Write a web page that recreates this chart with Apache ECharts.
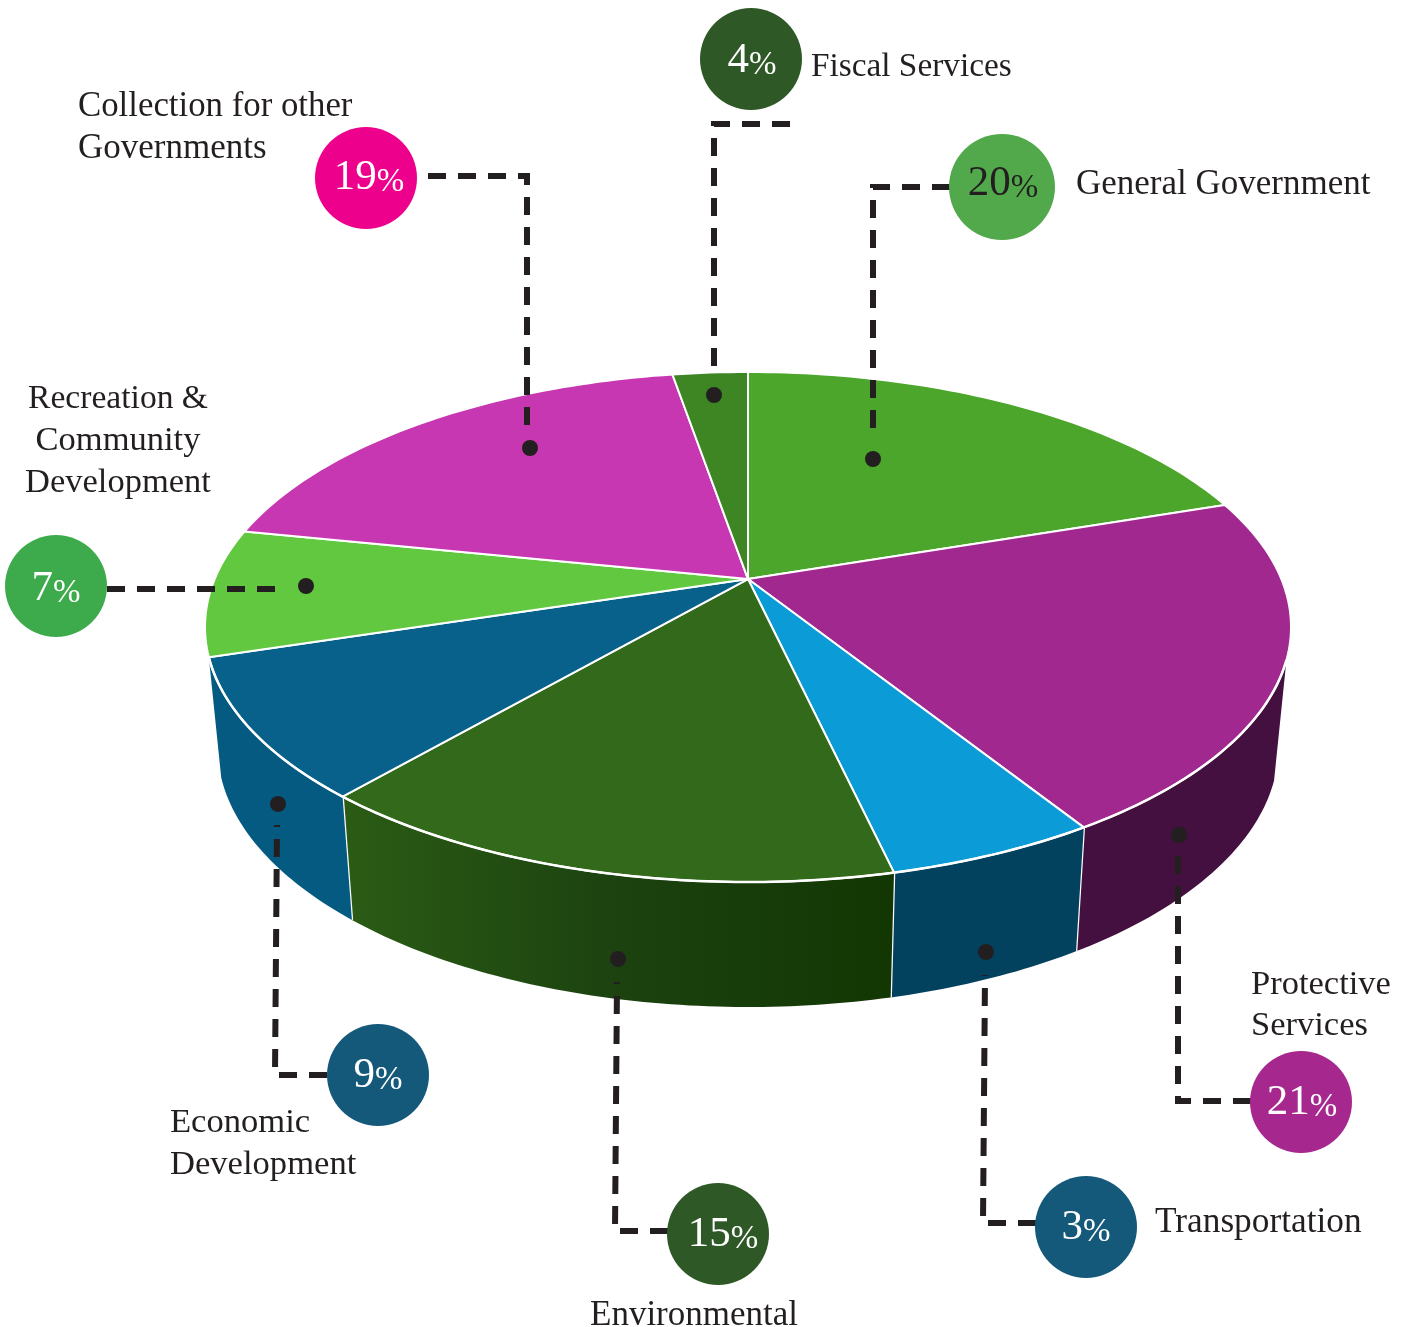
<!DOCTYPE html>
<html><head><meta charset="utf-8">
<style>html,body{margin:0;padding:0;background:#fff}#c{width:1405px;height:1327px}</style>
<script src="https://cdn.jsdelivr.net/npm/echarts@6/dist/echarts.min.js"></script>
</head><body><div id="c"></div>
<script>
// Data: categories, printed percentages, and the angular sweep each slice is actually drawn with
// (the picture's slices do not follow the printed shares, so the sweeps are read from the picture).
const categories = ['General Government','Protective Services','Transportation','Environmental','Economic Development','Recreation & Community Development','Collection for other Governments','Fiscal Services'];
const sharePercent = [20,21,3,15,9,7,19,4];
const drawnSweepDegrees = [61.4,80.4,22.6,63.9,34.9,28.8,60,8];

// Styles
const topColors = ['#4ba62b','#a0288f','#0b9bd7','#33691a','#07618a','#62c840','#c837b2','#3e8623'];
const wallColors = [null,'#43103f','#03425f',
  {type:'linear',x:0,y:0,x2:1,y2:0,colorStops:[{offset:0,color:'#2b5c15'},{offset:.5,color:'#1c4210'},{offset:1,color:'#123703'}]},
  '#045a80',null,null,null];
const INK = '#231f20', FONT = '"Liberation Serif", serif';

// Layout of the projected disc, in axis units (top ellipse spans -1..1 on both axes)
const APEX_Y = -0.188, WALL_SX = 530/542.5, WALL_SY = 260/255, WALL_DX = 0, WALL_DY = 120/255;
const WALL_FROM = 97.4, WALL_TO = 263.2;

let acc = 0;
const starts = drawnSweepDegrees.map(s => { const a = acc; acc += s; return a; });
const rad = d => d*Math.PI/180;
const topPt = t => [Math.sin(rad(t)), -Math.cos(rad(t))];
const botPt = t => { const p = topPt(t); return [p[0]*WALL_SX+WALL_DX, p[1]*WALL_SY+WALL_DY]; };
function arc(f, a, b){ const o=[]; const n=Math.max(2,Math.ceil(Math.abs(b-a))); for(let i=0;i<=n;i++) o.push(f(a+(b-a)*i/n)); return o; }

function renderWall(params, api){
  const i = params.dataIndex, a = Math.max(starts[i],WALL_FROM), b = Math.min(starts[i]+drawnSweepDegrees[i],WALL_TO);
  if (b <= a || !wallColors[i]) return {type:'group',children:[]};
  const pts = arc(topPt,a,b).concat(arc(botPt,b,a)).map(p=>api.coord(p));
  const seam = [botPt(b), topPt(b)].map(p=>api.coord(p));
  const kids = [{type:'polygon',shape:{points:pts},style:{fill:wallColors[i]}}];
  if (b < WALL_TO) kids.push({type:'polyline',shape:{points:seam},style:{stroke:'#fff',lineWidth:2.5,fill:null}});
  return {type:'group',children:kids};
}
function renderTop(params, api){
  const i = params.dataIndex, a = starts[i], b = a+drawnSweepDegrees[i];
  const pts = [[0,APEX_Y]].concat(arc(topPt,a,b)).map(p=>api.coord(p));
  return {type:'polygon',shape:{points:pts},style:{fill:topColors[i],stroke:'#fff',lineWidth:2,lineJoin:'round'}};
}
function renderRim(params, api){
  return {type:'polyline',shape:{points:arc(topPt,WALL_FROM,WALL_TO).map(p=>api.coord(p))},style:{stroke:'#fff',lineWidth:2.5,fill:null}};
}

// Callouts: pixel layout, one row per category. v = offset of the percentage text from the circle centre.
const callouts = [
 {c:[1002,187],r:53,fill:'#52a94b',txt:INK,v:[1,-4],path:[[950,187],[873,187],[873,436]],dot:[873,459],labels:[['General Government',1076,185,'left',35]]},
 {c:[1301,1102],r:51,fill:'#a6288f',txt:'#fff',v:[1,0],path:[[1251,1101],[1178,1101],[1178,852]],dot:[1179,835],labels:[['Protective',1251,985,'left',34.5],['Services',1251,1026,'left',34.5]]},
 {c:[1086,1227],r:51,fill:'#15597a',txt:'#fff',v:[0,0],path:[[1036,1223],[983,1223],[985,975]],dot:[986,952],labels:[['Transportation',1155,1223,'left',35.3]]},
 {c:[718,1234],r:51,fill:'#2e5826',txt:'#fff',v:[5,0],path:[[668,1231],[615,1231],[617,982]],dot:[618,959],labels:[['Environmental',590,1316,'left',35]]},
 {c:[378,1075],r:51,fill:'#15597a',txt:'#fff',v:[0,0],path:[[327,1075],[275,1075],[277,825]],dot:[278,804],labels:[['Economic',170,1123,'left',34.6],['Development',170,1165,'left',34.6]]},
 {c:[56,586],r:51,fill:'#3dab4b',txt:'#fff',v:[0,2],path:[[107,589],[283,589]],dot:[306,586],labels:[['Recreation &',118,399,'center',33.6],['Community',118,441,'center',34.5],['Development',118,483,'center',34.5]]},
 {c:[366,178],r:51,fill:'#ec008c',txt:'#fff',v:[3,-1],path:[[428,176],[527,176],[527,425]],dot:[530,448],labels:[['Collection for other',78,107,'left',34.8],['Governments',78,149,'left',35]]},
 {c:[751,59],r:51,fill:'#2e5826',txt:'#fff',v:[1,1],path:[[790,124],[714,124],[714,375]],dot:[714,395],labels:[['Fiscal Services',811,67,'left',33.3]]}
];
const graphics = [];
callouts.forEach((k,i)=>{
  graphics.push({type:'polyline',z:10,shape:{points:k.path},style:{stroke:INK,lineWidth:6,lineDash:[18,12],fill:null}});
  graphics.push({type:'circle',z:11,shape:{cx:k.dot[0],cy:k.dot[1],r:8},style:{fill:INK}});
  graphics.push({type:'circle',z:12,shape:{cx:k.c[0],cy:k.c[1],r:k.r},style:{fill:k.fill}});
  graphics.push({type:'text',z:13,x:k.c[0]+k.v[0],y:k.c[1]+k.v[1],style:{
    text:'{a|'+sharePercent[i]+'}{b|%}',align:'center',verticalAlign:'middle',
    rich:{a:{fontFamily:FONT,fontSize:43,fill:k.txt,color:k.txt,lineHeight:44,verticalAlign:'bottom'},
          b:{fontFamily:FONT,fontSize:33,fill:k.txt,color:k.txt,lineHeight:38,verticalAlign:'bottom'}}}});
  k.labels.forEach(l=>graphics.push({type:'text',z:13,x:l[1],y:l[2],style:{text:l[0],fontFamily:FONT,fontSize:l[4],fill:INK,align:l[3],verticalAlign:'middle'}}));
});

const rows = categories.map((n,i)=>({name:n,value:[sharePercent[i],drawnSweepDegrees[i]]}));
const chart = echarts.init(document.getElementById('c'),null,{renderer:'canvas'});
chart.setOption({
  animation:false, backgroundColor:'#fff',
  grid:{left:205,top:372,width:1086,height:510},
  xAxis:{type:'value',min:-1,max:1,show:false},
  yAxis:{type:'value',min:-1,max:1,inverse:true,show:false},
  series:[
    {type:'custom',coordinateSystem:'cartesian2d',clip:false,z:1,renderItem:renderWall,data:rows,silent:true},
    {type:'custom',coordinateSystem:'cartesian2d',clip:false,z:2,renderItem:renderTop,data:rows,silent:true},
    {type:'custom',coordinateSystem:'cartesian2d',clip:false,z:3,renderItem:renderRim,data:[rows[0]],silent:true}
  ],
  graphic:{elements:graphics}
});
</script></body></html>
